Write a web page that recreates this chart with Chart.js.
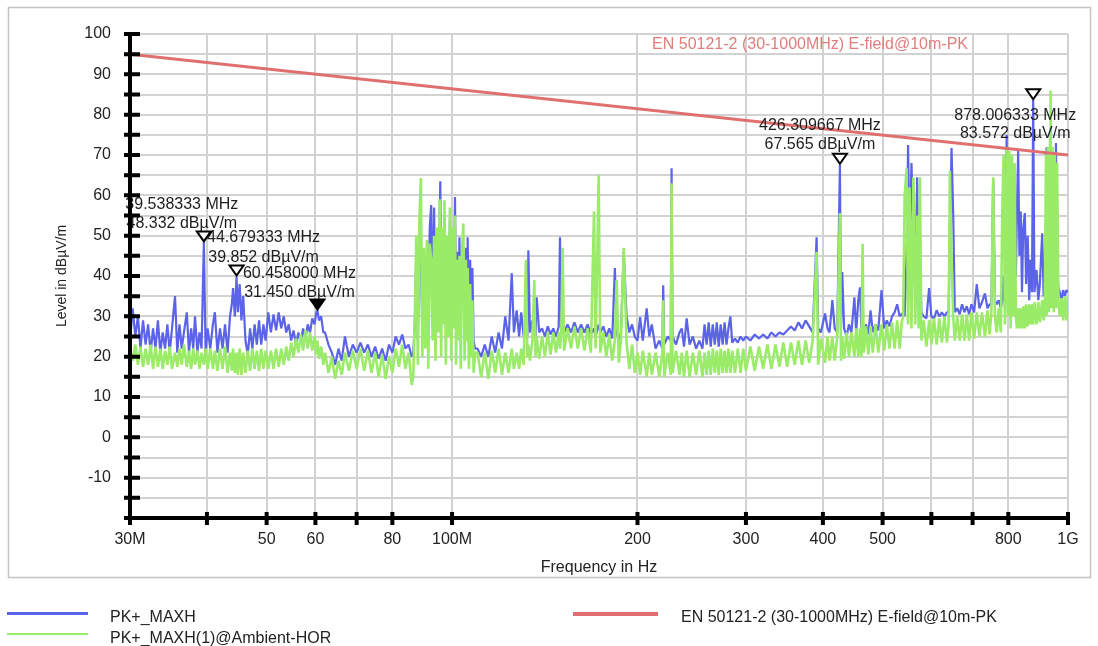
<!DOCTYPE html>
<html>
<head>
<meta charset="utf-8">
<title>PK+_MAXH</title>
<script src="https://cdn.jsdelivr.net/npm/chart.js@4/dist/chart.umd.min.js"></script>
<style>
  body { margin: 0; background: #fff; font-family: "Liberation Sans", Arial, sans-serif; }
  #wrap { position: relative; width: 1098px; height: 646px; overflow: hidden; }
  #chart { position: absolute; left: 0; top: 0; }
  .sw { position: absolute; }
  .leg { position: absolute; font-size: 16px; line-height: 18px; color: #222; white-space: nowrap; }
</style>
</head>
<body>
<div id="wrap">
  <canvas id="chart" width="1098" height="646"></canvas>
  <div class="sw" style="left:7px;top:612px;width:81px;height:3px;background:#5b63e8"></div>
  <div class="leg" style="left:110px;top:608px" id="leg0"></div>
  <div class="sw" style="left:7px;top:633px;width:81px;height:2px;background:#9aeb68"></div>
  <div class="leg" style="left:110px;top:629px" id="leg1"></div>
  <div class="sw" style="left:573px;top:612px;width:85px;height:4px;background:#e07070"></div>
  <div class="leg" style="left:681px;top:608px" id="leg2"></div>
</div>
<script>
// series names
const seriesNames = ['PK+_MAXH', 'PK+_MAXH(1)@Ambient-HOR', 'EN 50121-2 (30-1000MHz) E-field@10m-PK'];

// frequency grid in MHz (shared by both traces)
const freqMHz = [
  30.0, 30.3, 30.6, 30.9, 31.2, 31.5, 31.8, 32.1, 32.4, 32.7, 33.0, 33.3, 33.6, 33.9, 34.2, 34.5, 34.8, 35.1, 35.5, 35.8,
  36.1, 36.4, 36.7, 37.1, 37.4, 37.7, 38.0, 38.25, 38.6, 38.9, 39.2, 39.54, 39.8,
  40.1, 40.5, 40.9, 41.2, 41.6, 42.0, 42.4, 42.8, 43.2, 43.6, 43.9, 44.1, 44.4, 44.68, 44.9, 45.2, 45.5, 45.8,
  46.2, 46.6, 47.0, 47.4, 47.8, 48.2, 48.6, 49.0, 49.4, 49.8,
  50.3, 50.8, 51.3, 51.8, 52.3, 52.8, 53.3, 53.8, 54.3, 54.8, 55.3, 55.8, 56.3, 56.8, 57.3, 57.8, 58.3, 58.8, 59.3, 59.8,
  60.2, 60.46, 60.8, 61.3, 61.8, 62.2,
  63, 63.8, 64.6, 65.4, 66.2, 67, 68, 69, 70, 71, 72, 73, 74, 75, 76, 77, 78, 79, 80, 81, 82, 83, 84, 85, 86,
  86.5, 87, 87.5, 88, 88.5, 89, 89.5, 90, 90.5, 91, 91.5, 92, 92.5, 93, 93.5, 94, 94.5, 95, 95.5, 95.7, 96, 96.5, 97, 97.2, 97.7,
  98.2, 98.7, 99.2, 99.7, 100.2, 100.7, 101.1, 101.5, 102, 102.5, 102.8, 103.3, 103.8, 104.3, 104.8, 105.3, 105.8, 106, 106.5, 107, 107.5, 107.9, 108.4, 109,
  110, 111.5, 113, 114.5, 116, 117.5, 119, 120.5, 122, 123.5, 125, 126, 127.3, 128.5, 129.5, 130.7, 131.8, 132.5, 133, 133.8,
  135, 136, 136.6, 137.2, 138.5, 140, 141.5, 143, 144.5, 146, 147.5, 149, 149.7, 150.4, 151.2, 152,
  154, 156, 158, 160, 162, 164, 166, 168, 170, 171, 173, 174, 176, 178, 180, 182, 183.8, 185, 186.5, 188, 190, 192, 194, 196, 198,
  200, 202, 204, 207, 209, 211, 214, 217, 219.5, 220.2, 221, 224, 226.5, 227.2, 228, 231, 234, 236, 238, 240.4, 243, 246,
  249, 252, 255, 257, 259, 261, 263, 265, 267, 269, 271, 273, 275, 277, 279, 281, 283, 285, 288, 291, 294, 297,
  300, 305, 310, 315, 320, 325, 330, 335, 340, 345, 350, 355, 360, 365, 370, 375, 380, 385, 390.7, 393, 397, 403.2, 407, 410,
  414.4, 418, 422, 426.3, 428, 430, 433, 437, 441, 445,
  450, 453, 456.6, 459.4, 462, 464, 466, 470, 474, 478, 482, 487, 492, 498, 503, 508, 513, 518, 523, 528,
  533, 537, 540, 543, 547, 550, 553, 557, 561, 565, 569, 572, 575, 578, 583, 589, 595, 600, 606, 612,
  618, 624, 630, 636, 640, 643, 647, 651, 655, 661, 667, 673, 679, 685, 691, 697, 704, 711, 718, 725,
  733, 740, 746, 751, 756, 761, 766, 772, 778, 782, 786, 790, 795, 799, 803, 807, 811, 815, 819, 823,
  826, 830, 834, 838, 842, 846, 851, 855, 860, 865, 869, 874, 878, 882, 889, 895, 900, 908, 913, 917,
  921, 923, 927, 931, 935, 937, 940, 944, 948, 952, 956, 960, 965, 970, 976, 982, 988, 994, 1000
];

// PK+_MAXH level, dBµV/m
const blueLevel = [
  24, 32, 25, 30, 22, 29, 23, 28, 21, 27, 22, 29, 21, 26, 22, 28, 21, 27, 35, 21,
  28, 22, 26, 31, 21, 27, 22, 30, 21, 26, 22, 48.33, 21,
  27, 22, 28, 31, 21, 27, 22, 28, 21, 30, 33, 37, 30, 39.85, 31, 38, 29, 35,
  24, 20.5, 27, 22, 28, 23, 29, 23, 28, 24,
  31, 26, 30.5, 26.5, 31, 27, 30, 26, 28, 24, 26.5, 23, 26, 23.5, 27, 24.5, 28, 26, 29.5, 28,
  31, 31.45, 29, 30, 26, 26,
  23, 21, 18, 22, 19, 25, 20, 23, 21, 23.5, 21, 23, 20, 22.5, 19.5, 22, 19, 23, 21, 25, 23, 25.5, 22, 23, 20,
  21, 28, 46, 24, 48, 45, 26, 42, 28, 44, 30, 52, 57.6, 30, 57, 28, 50, 32, 55, 63.5, 30, 50, 36, 55, 30,
  48, 34, 54, 30, 50, 36, 59.6, 30, 46, 30, 49.6, 28, 46, 40, 28, 47, 30, 49.6, 28, 44, 26, 42, 24, 22,
  22, 20, 23, 20, 25, 21, 26, 22, 30, 24, 40.7, 26, 31.5, 25, 31, 25, 28, 25, 46.4, 26,
  29, 28, 25, 34.7, 26, 27, 25, 27.5, 25.5, 27, 25, 27.5, 49.6, 26, 30, 26,
  28, 26, 28.5, 26, 28, 26, 28, 25.5, 27, 25, 28, 26, 27.5, 25, 27, 24.5, 42, 26, 24, 26, 46, 30, 26, 28, 25,
  24, 29.8, 24, 32, 25, 28, 22, 24, 22, 37.7, 23, 25, 24, 66.7, 25, 23, 26, 27, 22.5, 29.5, 23, 25,
  22, 24, 22, 28, 23, 28.5, 22.5, 28, 23, 28.5, 22.5, 28, 23, 28.5, 23, 27, 30, 23.5, 24.5, 23.5, 25, 24,
  25, 24, 25.5, 24.5, 25.5, 24.5, 26, 25, 26, 25.5, 26.5, 27.5, 26.5, 28.5, 27, 29, 27.5, 26, 49.6, 27, 26, 30.7, 27, 26,
  34, 27, 26, 67.57, 27, 41, 27, 25, 28, 26,
  34.7, 26, 34, 37.2, 27, 28, 26, 28, 25.5, 31.5, 26, 28, 26.5, 36.5, 27, 29, 27.5, 30, 31, 33,
  30, 30.5, 31, 30, 45, 72.5, 45, 68, 50, 35, 64.5, 36, 45, 31, 30, 29.5, 37, 30, 29.5, 31.5,
  30, 31, 30, 31, 31, 50, 71.7, 55.6, 31, 32, 30.5, 33, 31, 32.5, 30.5, 33, 31, 38, 32, 33.5,
  35.7, 32, 33, 33, 64, 34, 33, 34, 32, 34, 40, 32, 75, 33, 45, 32, 40, 33, 45, 40,
  55, 71, 45, 56, 36, 52, 55.6, 38, 50, 34, 44, 36, 83.57, 36, 41.5, 34, 38, 50.6, 35, 36,
  40, 72, 40, 36, 40, 45, 36, 40, 36, 45, 73, 40, 37, 36, 34, 36.5, 35, 36.5, 36
];

// PK+_MAXH(1)@Ambient-HOR level, dBµV/m
const greenLevel = [
  22, 19, 23, 18, 22.5, 17.5, 22, 18, 23, 17, 22.5, 17.5, 22, 17, 21.5, 18, 22.5, 17, 21, 17.5,
  22, 18, 23, 17.5, 21.5, 17, 22, 18, 21.5, 17, 21, 18, 22,
  17, 22, 17, 21.5, 16.5, 22, 17, 22.5, 16, 21, 16.5, 22, 16, 21, 15.5, 22, 15.5, 21,
  16, 21.5, 16.5, 22, 17, 21.5, 16.5, 22, 17, 21.5,
  17, 21.5, 17, 22, 17.5, 22, 18, 22.5, 19, 23.5, 20, 24.5, 21, 25.5, 21.5, 26.5, 22, 26, 21.5, 25,
  20.5, 24, 19.5, 22.5, 18, 21,
  16, 20, 14.5, 19, 15.5, 21, 16.5, 21.5, 17, 22, 16.5, 21.5, 16, 21, 15, 20.5, 14.5, 20, 16, 22, 17.5, 23, 17, 21, 13,
  15, 30, 50, 18, 54, 64.3, 20, 47, 22, 49, 17, 48, 44, 24, 50, 19, 52, 26, 59, 44, 20, 52, 28, 58.8, 18,
  50, 25, 57, 19, 52, 27, 55, 18, 44, 24, 45, 17, 46, 53, 19, 44, 24, 42, 17, 38, 20, 34, 16, 21,
  21, 15, 21, 14.5, 21.5, 16, 22, 15.5, 21, 16, 22, 17, 21, 17, 22, 18, 44, 20, 23, 19,
  24, 39, 20, 25, 19.5, 25, 20, 26, 20.5, 26, 21, 26, 22, 26, 47, 21.5,
  27, 22, 27.5, 22, 27, 21.5, 27, 21, 56, 22, 65, 21, 26, 20, 25.5, 19, 24, 39, 18.5, 24, 47, 23.5, 17, 23, 16,
  21, 15.5, 21.5, 15, 21, 15.5, 21, 15, 21, 34, 15, 21, 15.5, 63, 16, 21.5, 15.5, 21, 15, 21.5, 15, 21,
  15.5, 21.5, 15, 21, 15.5, 21.5, 15.5, 22, 16, 21.5, 15.5, 22, 16, 21.5, 16, 22, 16, 21.5, 16, 22, 16, 22,
  16.5, 22.5, 16.5, 22.5, 17, 23, 17, 23, 17.5, 23.5, 17.5, 23.5, 18, 24, 18, 24, 18.5, 24, 46, 18, 24.5, 18.5, 25, 19,
  25, 19, 25, 55.6, 19, 25, 19.5, 26, 20, 26,
  20, 27, 20, 27, 20, 48, 21, 27.5, 20.5, 27.5, 21, 28, 21, 28, 21.5, 28, 22, 28.5, 22, 29,
  22, 28.5, 30, 60, 66.7, 28, 62, 27, 64.5, 28, 55, 27, 64.5, 24, 29, 22.5, 29, 23, 29.5, 23,
  29.5, 23.5, 30, 23.5, 28, 66, 45, 30, 24, 30, 24, 30.5, 24, 30.5, 24, 31, 24.5, 31, 25, 31,
  25, 31.5, 25.5, 31, 64.5, 30, 26, 32, 26, 55, 70, 28, 72, 30, 71, 27, 70, 30, 68, 30,
  27, 32, 27, 32, 27, 32.5, 27, 33, 27.5, 33, 28, 33, 28, 33.5, 28, 33.5, 28.5, 34, 29, 32,
  70, 30, 72, 31, 74, 86, 32, 72, 31, 70, 32, 68, 33, 30, 34.5, 29, 35, 29, 35
];

// limit line
const limitFreq = [30, 1000];
const limitLevel = [95, 70];

// markers
const markerFreq = [39.538333, 44.679333, 60.458, 426.309667, 878.006333];
const markerLevel = [48.332, 39.852, 31.45, 67.565, 83.572];
const markerFilled = [false, false, true, false, false];

// axis ticks
const xTickValues = [30, 40, 50, 60, 70, 80, 100, 200, 300, 400, 500, 600, 700, 800, 1000];
const xTickLabels = ['30M', '', '50', '60', '', '80', '100M', '200', '300', '400', '500', '', '', '800', '1G'];
const yTickValues = [-20, -15, -10, -5, 0, 5, 10, 15, 20, 25, 30, 35, 40, 45, 50, 55, 60, 65, 70, 75, 80, 85, 90, 95, 100];
const yTickLabels = ['', '', '-10', '', '0', '', '10', '', '20', '', '30', '', '40', '', '50', '', '60', '', '70', '', '80', '', '90', '', '100'];

if (freqMHz.length !== blueLevel.length || freqMHz.length !== greenLevel.length) {
  console.error('length mismatch', freqMHz.length, blueLevel.length, greenLevel.length);
}

document.getElementById('leg0').textContent = seriesNames[0];
document.getElementById('leg1').textContent = seriesNames[1];
document.getElementById('leg2').textContent = seriesNames[2];

const FONT = '"Liberation Sans", Arial, sans-serif';
Chart.defaults.font.family = FONT;
Chart.defaults.color = '#222';

// label placement for each marker: [dx, dy line1, dy line2]
const labelOffsets = [[-22, -38, -19], [27, -39, -19], [-18, -37, -18], [-20, -39, -20], [-18, 15, 33]];

const emcPlugin = {
  id: 'emcPlugin',
  beforeDraw(chart) {
    const ctx = chart.ctx;
    ctx.save();
    ctx.strokeStyle = '#c4c4c4';
    ctx.lineWidth = 1.5;
    ctx.strokeRect(8.5, 7.5, 1082, 570);
    ctx.restore();
  },
  afterDraw(chart) {
    const { ctx, chartArea: a } = chart;
    const xs = chart.scales.x, ys = chart.scales.y;
    ctx.save();
    ctx.textBaseline = 'middle';

    // limit name
    ctx.font = '16px ' + FONT;
    ctx.fillStyle = '#e07d7d';
    ctx.textAlign = 'right';
    ctx.fillText(seriesNames[2], a.right - 100, a.top + 11);

    // marker texts
    ctx.fillStyle = '#1e1e1e';
    ctx.textAlign = 'center';
    markerFreq.forEach((f, i) => {
      const px = xs.getPixelForValue(f), py = ys.getPixelForValue(markerLevel[i]);
      const o = labelOffsets[i];
      ctx.fillText(f.toFixed(6) + ' MHz', px + o[0], py + o[1]);
      ctx.fillText(markerLevel[i].toFixed(3) + ' dBµV/m', px + o[0], py + o[2]);
    });

    // marker triangles
    markerFreq.forEach((f, i) => {
      const px = xs.getPixelForValue(f), py = ys.getPixelForValue(markerLevel[i]);
      ctx.beginPath();
      ctx.moveTo(px - 7, py - 11);
      ctx.lineTo(px + 7, py - 11);
      ctx.lineTo(px, py - 1);
      ctx.closePath();
      ctx.fillStyle = markerFilled[i] ? '#000' : '#fff';
      ctx.fill();
      ctx.lineWidth = 2;
      ctx.strokeStyle = '#000';
      ctx.stroke();
    });

    // axes and tick marks
    ctx.strokeStyle = '#000';
    ctx.lineWidth = 4;
    ctx.beginPath();
    ctx.moveTo(a.left, a.top - 2);
    ctx.lineTo(a.left, a.bottom + 2);
    ctx.moveTo(a.left - 2, a.bottom);
    ctx.lineTo(a.right + 2, a.bottom);
    yTickValues.forEach(v => {
      const yy = ys.getPixelForValue(v);
      ctx.moveTo(a.left - 6, yy);
      ctx.lineTo(a.left + 10, yy);
    });
    xTickValues.forEach(v => {
      const xx = xs.getPixelForValue(v);
      ctx.moveTo(xx, a.bottom - 6);
      ctx.lineTo(xx, a.bottom + 7);
    });
    ctx.stroke();
    ctx.restore();
  }
};

new Chart(document.getElementById('chart'), {
  type: 'line',
  data: {
    datasets: [
      {
        label: seriesNames[0],
        data: freqMHz.map((f, i) => ({ x: f, y: blueLevel[i] })),
        borderColor: '#5b63e8',
        borderWidth: 2.2,
        borderJoinStyle: 'bevel',
        order: 2
      },
      {
        label: seriesNames[1],
        data: freqMHz.map((f, i) => ({ x: f, y: greenLevel[i] })),
        borderColor: '#9aeb68',
        borderWidth: 2.6,
        borderJoinStyle: 'bevel',
        order: 1
      },
      {
        label: seriesNames[2],
        data: limitFreq.map((f, i) => ({ x: f, y: limitLevel[i] })),
        borderColor: '#e07070',
        borderWidth: 3,
        order: 0
      }
    ]
  },
  options: {
    responsive: false,
    animation: false,
    devicePixelRatio: 1,
    elements: { point: { radius: 0 }, line: { tension: 0 } },
    layout: { padding: { left: 0, top: 34, right: 30, bottom: 66 } },
    plugins: { legend: { display: false }, tooltip: { enabled: false } },
    scales: {
      x: {
        type: 'logarithmic',
        min: 30,
        max: 1000,
        afterBuildTicks: s => { s.ticks = xTickValues.map(v => ({ value: v })); },
        afterFit: s => { s.height = 62; s.paddingLeft = 0; s.paddingRight = 0; },
        ticks: {
          autoSkip: false, maxRotation: 0, padding: 12,
          color: '#222', font: { size: 16 },
          callback: (v, i) => xTickLabels[i]
        },
        grid: { color: '#d2d2d2', lineWidth: 2, drawTicks: false },
        border: { display: false },
        title: { display: true, text: 'Frequency in Hz', color: '#222', font: { size: 16 }, padding: { top: 0, bottom: 3 } }
      },
      y: {
        type: 'linear',
        min: -20,
        max: 100,
        afterBuildTicks: s => { s.ticks = yTickValues.map(v => ({ value: v })); },
        afterFit: s => { s.width = 130; s.paddingTop = 0; s.paddingBottom = 0; },
        ticks: {
          autoSkip: false, padding: 19,
          color: '#222', font: { size: 16 },
          callback: (v, i) => yTickLabels[i]
        },
        grid: { color: '#d2d2d2', lineWidth: 2, drawTicks: false },
        border: { display: false },
        title: { display: true, text: 'Level in dBµV/m', color: '#222', font: { size: 14 }, padding: { top: 54, bottom: 0 } }
      }
    }
  },
  plugins: [emcPlugin]
});
</script>
</body>
</html>
